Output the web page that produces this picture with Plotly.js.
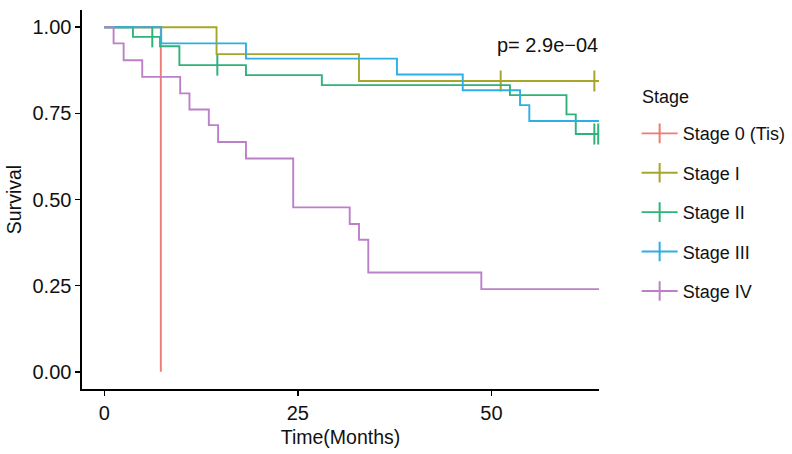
<!DOCTYPE html>
<html><head><meta charset="utf-8">
<script src="https://cdn.plot.ly/plotly-3.0.1.min.js"></script>
<style>html,body{margin:0;padding:0;background:#fff}#chart{width:792px;height:454px}</style>
</head><body><div id="chart"></div>
<script>
// ---- data ----
const stageNames = ["Stage 0 (Tis)", "Stage I", "Stage II", "Stage III", "Stage IV"];
const stageColors = ["#EE7B74", "#A7A62A", "#2EB37A", "#2FAEE5", "#BC80C9"];

// event times (months) and Kaplan-Meier survival after each event
const stage0Times = [7.3];
const stage0Surv  = [0.0];
const stage0Censor = [];

const stage1Times = [14.5, 32.9];
const stage1Surv  = [0.922, 0.844];
const stage1Censor = [51.2, 63.3];

const stage2Times = [3.7, 7.2, 9.7, 18.3, 28.1, 52.4, 59.7, 60.9];
const stage2Surv  = [0.972, 0.945, 0.890, 0.861, 0.832, 0.803, 0.747, 0.690];
const stage2Censor = [6.2, 14.6, 63.3, 63.8];

const stage3Times = [7.35, 18.3, 37.8, 46.3, 53.7, 54.9];
const stage3Surv  = [0.953, 0.909, 0.863, 0.817, 0.774, 0.728];
const stage3Censor = [];

const stage4Times = [1.2, 2.5, 4.9, 9.8, 11.0, 13.5, 14.7, 18.3, 24.4, 31.7, 32.9, 34.1, 48.7];
const stage4Surv  = [0.953, 0.904, 0.856, 0.808, 0.761, 0.716, 0.667, 0.619, 0.477, 0.429, 0.383, 0.288, 0.240];
const stage4Censor = [];

// last follow-up time per stage (curves run past the visible axis end)
const lastFollowUp = [7.3, 64.5, 64.5, 64.5, 64.5];

const xTickVals = [0, 25, 50];
const yTickVals = [0, 0.25, 0.5, 0.75, 1];
const yTickText = ["0.00", "0.25", "0.50", "0.75", "1.00"];
const pValueText = "p= 2.9e\u221204";
const legendTitle = "Stage";

// ---- build step traces ----
const allTimes = [stage0Times, stage1Times, stage2Times, stage3Times, stage4Times];
const allSurv = [stage0Surv, stage1Surv, stage2Surv, stage3Surv, stage4Surv];
const allCensor = [stage0Censor, stage1Censor, stage2Censor, stage3Censor, stage4Censor];

function survAt(times, surv, t) {
  let s = 1;
  for (let i = 0; i < times.length; i++) if (times[i] <= t) s = surv[i];
  return s;
}

const traces = [];
stageNames.forEach((name, k) => {
  const pts = [{x: 0, y: 1}];
  allTimes[k].forEach((t, i) => pts.push({x: t, y: allSurv[k][i]}));
  const lastT = allTimes[k][allTimes[k].length - 1];
  if (lastFollowUp[k] > lastT) pts.push({x: lastFollowUp[k], y: allSurv[k][allSurv[k].length - 1]});
  // survival curve
  traces.push({
    type: 'scatter', mode: 'lines', name: name,
    legendgroup: 'g' + k, showlegend: false,
    x: pts.map(p => p.x), y: pts.map(p => p.y),
    line: {color: stageColors[k], width: 1.9, shape: 'hv'},
    hoverinfo: 'x+y+name'
  });
  // censor marks
  if (allCensor[k].length) {
    traces.push({
      type: 'scatter', mode: 'markers', name: name,
      legendgroup: 'g' + k, showlegend: false,
      x: allCensor[k], y: allCensor[k].map(t => survAt(allTimes[k], allSurv[k], t)),
      marker: {symbol: 'line-ns-open', size: 15, color: stageColors[k],
               line: {color: stageColors[k], width: 2}},
      cliponaxis: false, hoverinfo: 'x+y+name'
    });
  }
  // legend entry (line with cross, as in the reference key)
  traces.push({
    type: 'scatter', mode: 'lines+markers', name: name,
    legendgroup: 'g' + k, showlegend: true,
    x: [null], y: [null],
    line: {color: stageColors[k], width: 1.9},
    marker: {symbol: 'line-ns-open', size: 14, color: stageColors[k],
             line: {color: stageColors[k], width: 2}}
  });
});

const font = '"Liberation Sans", Arial, Helvetica, sans-serif';
const layout = {
  width: 792, height: 454,
  margin: {l: 82, r: 193, t: 10, b: 65, autoexpand: false},
  paper_bgcolor: '#ffffff', plot_bgcolor: '#ffffff',
  font: {family: font, size: 18, color: '#111111'},
  showlegend: true,
  xaxis: {
    range: [-2.88, 63.9], tickvals: xTickVals, ticktext: xTickVals.map(String),
    ticks: 'outside', ticklen: 5, tickwidth: 1.5, tickcolor: '#000',
    showline: true, linecolor: '#000', linewidth: 1.6,
    showgrid: false, zeroline: false,
    tickfont: {size: 20, color: '#111'},
    title: {text: 'Time(Months)', font: {size: 19.5, color: '#111'}, standoff: 8}
  },
  yaxis: {
    range: [-0.05, 1.05], tickvals: yTickVals, ticktext: yTickText,
    ticks: 'outside', ticklen: 5, tickwidth: 1.5, tickcolor: '#000',
    showline: true, linecolor: '#000', linewidth: 1.6,
    showgrid: false, zeroline: false,
    tickfont: {size: 20, color: '#111'},
    title: {text: 'Survival', font: {size: 19.5, color: '#111'}, standoff: 5}
  },
  legend: {
    x: 1.0728, xanchor: 'left', y: 0.7226, yanchor: 'top',
    traceorder: 'grouped', tracegroupgap: 13,
    itemwidth: 36,
    font: {size: 18, color: '#111'},
    bgcolor: 'rgba(0,0,0,0)'
  },
  annotations: [{
    text: pValueText, xref: 'paper', yref: 'paper',
    x: 1.002, y: 0.908, xanchor: 'right', yanchor: 'middle',
    showarrow: false, font: {size: 20, color: '#111'}
  }, {
    text: legendTitle, xref: 'paper', yref: 'paper',
    x: 1.0786, y: 0.7704, xanchor: 'left', yanchor: 'middle',
    showarrow: false, font: {size: 18, color: '#111'}
  }]
};

Plotly.newPlot('chart', traces, layout, {displayModeBar: false, staticPlot: true});
</script>
</body></html>
